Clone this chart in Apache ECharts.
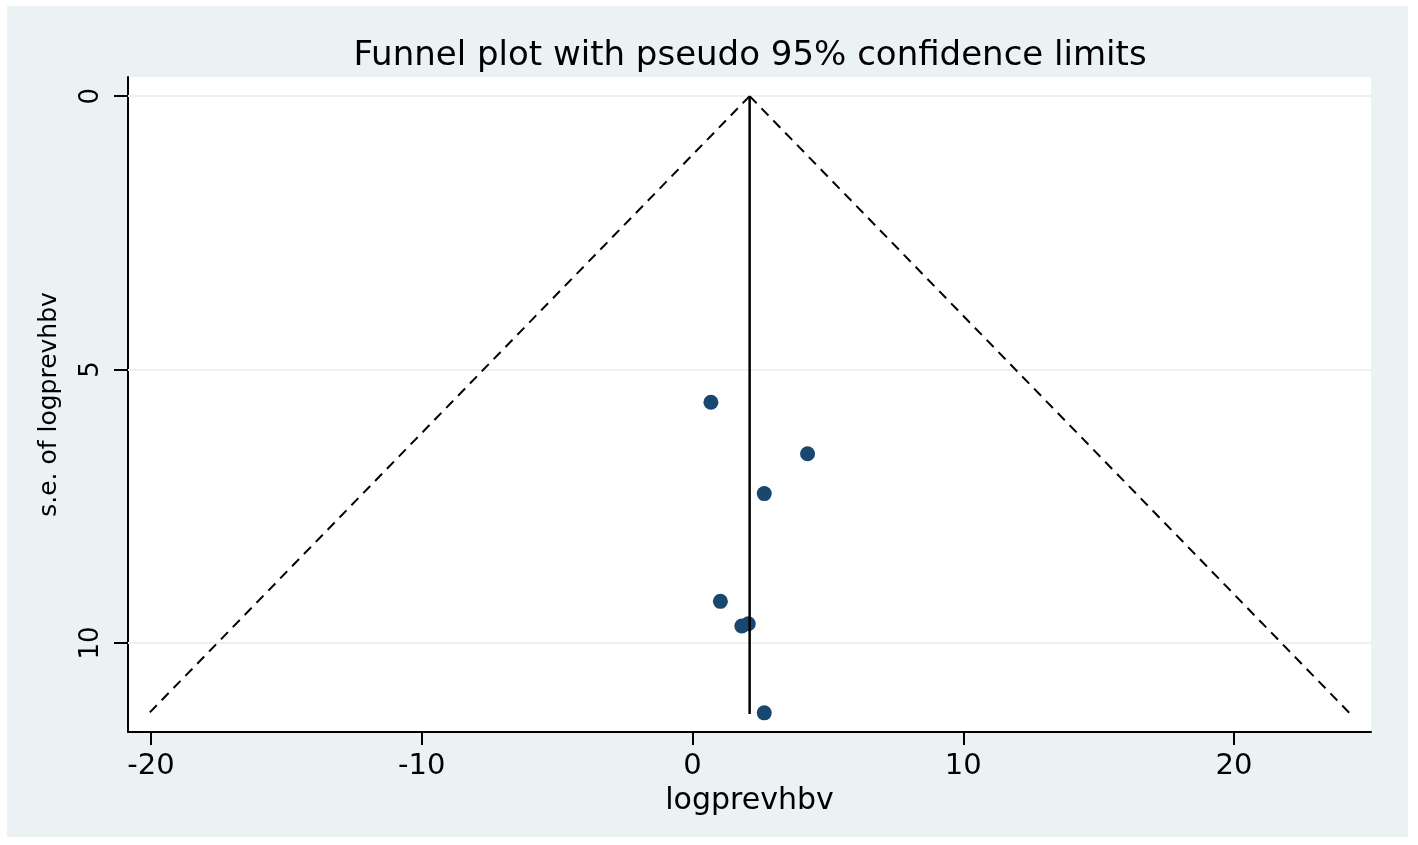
<!DOCTYPE html>
<html>
<head>
<meta charset="utf-8">
<title>Funnel plot</title>
<script src="https://cdn.jsdelivr.net/npm/echarts@6.0.0/dist/echarts.min.js"></script>
<style>
  html, body { margin: 0; padding: 0; background: #ffffff; }
  #main { width: 1418px; height: 845px; }
</style>
</head>
<body>
<div id="main"></div>
<script>
// study estimates: [logprevhbv, s.e. of logprevhbv]
var studies = [
    [0.68, 5.60],
    [4.25, 6.54],
    [2.65, 7.27],
    [1.03, 9.24],
    [1.82, 9.69],
    [2.06, 9.65],
    [2.65, 11.28]
];
// pooled estimate line and pseudo 95% limits
var pooledLine = [[2.11, 0], [2.11, 11.3]];
var lowerLimit = [[2.11, 0], [-20.1, 11.3]];
var upperLimit = [[2.11, 0], [24.3, 11.3]];

var xTicks = [-20, -10, 0, 10, 20];
var yTicks = [0, 5, 10];

var panelColor = '#eaf2f3';
var font = 'DejaVu Sans';

var myChart = echarts.init(document.getElementById('main'));

var gridLines = [];
for (var i = 0; i < yTicks.length; i++) {
    gridLines.push({ yAxis: yTicks[i] });
}

var option = {
    backgroundColor: '#ffffff',
    animation: false,
    graphic: [{
        type: 'rect',
        z: -10,
        shape: { x: 7, y: 6, width: 1401, height: 831 },
        style: { fill: panelColor }
    }],
    title: {
        text: 'Funnel plot with pseudo 95% confidence limits',
        left: 745,
        top: 34,
        textAlign: 'center',
        textStyle: { fontFamily: font, fontSize: 34, fontWeight: 'normal', color: '#000' }
    },
    grid: {
        left: 128,
        right: 47,
        top: 77,
        bottom: 113,
        show: true,
        backgroundColor: '#ffffff',
        borderWidth: 0
    },
    xAxis: {
        type: 'value',
        min: -20.85,
        max: 25.06,
        name: 'logprevhbv',
        nameLocation: 'middle',
        nameGap: 45,
        nameTextStyle: { fontFamily: font, fontSize: 30, color: '#000' },
        axisLine: { onZero: false, lineStyle: { color: '#000', width: 2 } },
        axisTick: { customValues: xTicks, length: 13, lineStyle: { color: '#000', width: 2 } },
        axisLabel: { customValues: xTicks, margin: 20, fontFamily: font, fontSize: 29, color: '#000' },
        splitLine: { show: false }
    },
    yAxis: {
        type: 'value',
        inverse: true,
        min: -0.35,
        max: 11.63,
        name: 's.e. of logprevhbv',
        nameLocation: 'middle',
        nameGap: 66,
        nameTextStyle: { fontFamily: font, fontSize: 25, color: '#000' },
        axisLine: { show: true, onZero: false, lineStyle: { color: '#000', width: 2 } },
        axisTick: { show: true, customValues: yTicks, length: 14, lineStyle: { color: '#000', width: 2 } },
        axisLabel: { customValues: yTicks, rotate: 90, margin: 24, fontFamily: font, fontSize: 26, color: '#000' },
        splitLine: { show: false }
    },
    series: [
        {
            name: 'studies',
            type: 'scatter',
            data: studies,
            symbol: 'circle',
            symbolSize: 15,
            itemStyle: { color: '#1a476f', opacity: 1 },
            z: 3,
            markLine: {
                silent: true,
                symbol: 'none',
                label: { show: false },
                lineStyle: { color: panelColor, width: 2, type: 'solid' },
                data: gridLines,
                z: 1
            }
        },
        {
            name: 'pooled',
            type: 'line',
            data: pooledLine,
            symbol: 'none',
            lineStyle: { color: '#000', width: 2.5 },
            z: 4
        },
        {
            name: 'lower',
            type: 'line',
            data: lowerLimit,
            symbol: 'none',
            lineStyle: { color: '#000', width: 2, type: [10, 7] },
            z: 4
        },
        {
            name: 'upper',
            type: 'line',
            data: upperLimit,
            symbol: 'none',
            lineStyle: { color: '#000', width: 2, type: [10, 7] },
            z: 4
        }
    ]
};
option && myChart.setOption(option);
</script>
</body>
</html>
